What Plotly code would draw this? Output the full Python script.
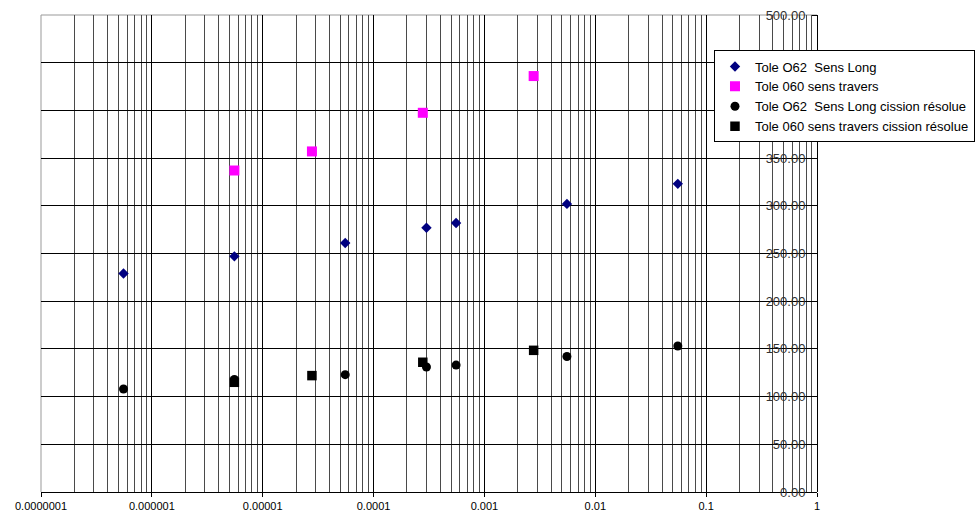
import plotly.graph_objects as go

# Data
x_long = [5.55e-7, 5.55e-6, 5.55e-5, 3.0e-4, 5.55e-4, 5.55e-3, 5.55e-2]
y_long = [229, 247, 261, 277, 282, 302, 323]

x_trav = [5.55e-6, 2.78e-5, 2.78e-4, 2.78e-3]
y_trav = [337, 357, 397.5, 436]

x_long_cis = [5.55e-7, 5.55e-6, 5.55e-5, 3.0e-4, 5.55e-4, 5.55e-3, 5.55e-2]
y_long_cis = [108, 118, 123, 131, 133, 142, 153]

x_trav_cis = [5.55e-6, 2.78e-5, 2.78e-4, 2.78e-3]
y_trav_cis = [115, 122, 136, 148.5]

names = [
    "Tole O62  Sens Long",
    "Tole 060 sens travers",
    "Tole O62  Sens Long cission résolue",
    "Tole 060 sens travers cission résolue",
]

x_tickvals = [1e-7, 1e-6, 1e-5, 1e-4, 1e-3, 1e-2, 1e-1, 1]
x_ticktext = ["0.0000001", "0.000001", "0.00001", "0.0001", "0.001", "0.01", "0.1", "1"]
minor_vals = [k * 10.0 ** e for e in range(-7, 0) for k in range(2, 10)]

FONT = "Liberation Sans, Arial, sans-serif"

fig = go.Figure()
fig.add_trace(go.Scatter(x=x_long, y=y_long, mode="markers", name=names[0],
                         marker=dict(symbol="diamond", size=8, color="#000080")))
fig.add_trace(go.Scatter(x=x_trav, y=y_trav, mode="markers", name=names[1],
                         marker=dict(symbol="square", size=10, color="#FF00FF")))
fig.add_trace(go.Scatter(x=x_long_cis, y=y_long_cis, mode="markers", name=names[2],
                         marker=dict(symbol="circle", size=9, color="#000000")))
fig.add_trace(go.Scatter(x=x_trav_cis, y=y_trav_cis, mode="markers", name=names[3],
                         marker=dict(symbol="square", size=9.5, color="#000000")))

fig.update_layout(
    width=975, height=520,
    margin=dict(l=41, r=158, t=15, b=28, autoexpand=False),
    paper_bgcolor="white", plot_bgcolor="white",
    font=dict(family=FONT, size=11, color="black"),
    showlegend=True,
    legend=dict(
        x=1.2036, xanchor="right", y=0.9256, yanchor="top",
        bgcolor="white", bordercolor="black", borderwidth=1,
        font=dict(family=FONT, size=13, color="black"),
        itemwidth=30, tracegroupgap=0,
    ),
    xaxis=dict(
        type="log", range=[-7, 0],
        tickmode="array", tickvals=x_tickvals, ticktext=x_ticktext,
        showgrid=True, gridcolor="#000000", gridwidth=1,
        showline=True, linecolor="black", linewidth=1, mirror=False,
        ticks="outside", ticklen=4, tickcolor="black",
        zeroline=False,
        tickfont=dict(family=FONT, size=11, color="black"),
        minor=dict(tickvals=minor_vals, showgrid=True, gridcolor="#4a4a4a", gridwidth=1, ticks=""),
    ),
    yaxis=dict(
        range=[0, 500], dtick=50, tick0=0, tickformat=".2f",
        side="left", anchor="free", position=1.0,
        showgrid=True, gridcolor="#000000", gridwidth=1,
        showline=True, linecolor="black", linewidth=1,
        ticks="outside", ticklen=5, tickcolor="black",
        ticklabelstandoff=4,
        zeroline=False,
        tickfont=dict(family=FONT, size=13, color="#333333"),
    ),
    shapes=[
        # gray plot-area border on the top and left edges
        dict(type="line", xref="paper", yref="paper", x0=0, x1=1, y0=1, y1=1,
             line=dict(color="#999999", width=1), layer="below"),
        dict(type="line", xref="paper", yref="paper", x0=0, x1=0, y0=0, y1=1,
             line=dict(color="#999999", width=1), layer="below"),
    ],
)

fig.write_html(
    "out.html",
    config={"displayModeBar": False},
    post_script="document.body.style.margin='0';document.body.style.overflow='hidden';",
)
